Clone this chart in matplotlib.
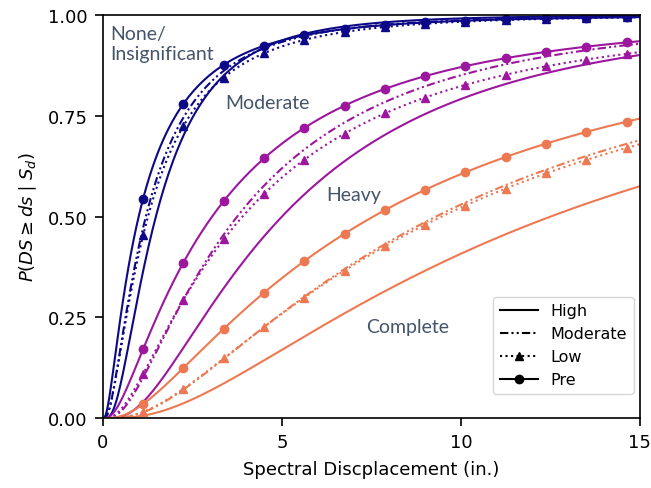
import math
import numpy as np
import matplotlib.pyplot as plt

# damage-state thresholds (fragility curves), one group per colour
STATES = ["Slight", "Moderate", "Extensive"]
CODES = ["High", "Moderate", "Low", "Pre"]

# lognormal median Sd (in.) and dispersion for each state / code level
MEDIAN_HIGH = [1.48, 5.0, 12.5]
MEDIAN_MOD = [1.20, 3.75, 9.30]
MEDIAN_LOW = [1.26, 3.90, 9.46]
MEDIAN_PRE = [1.00, 3.05, 7.55]

BETA_HIGH = [0.795, 0.853, 0.958]
BETA_MOD = [0.95, 0.943, 0.965]
BETA_LOW = [0.97, 1.013, 0.987]
BETA_PRE = [1.05, 1.05, 1.05]

REGION_LABELS = ["None/\nInsignificant", "Moderate", "Heavy", "Complete"]

COLORS = [plt.cm.plasma(0.0), plt.cm.plasma(1 / 3), plt.cm.plasma(2 / 3)]
LABEL_COLOR = "#44546A"
DASHDOTDOT = (0, (4, 1.5, 1, 1.5, 1, 1.5))

STYLES = {
    "High": dict(ls="-", marker=None),
    "Moderate": dict(ls=DASHDOTDOT, marker=None),
    "Low": dict(ls=":", marker="^"),
    "Pre": dict(ls="-", marker="o"),
}

_erf = np.frompyfunc(math.erf, 1, 1)


def lognorm_cdf(x, median, beta):
    xs = np.clip(x, 1e-9, None)
    z = np.log(xs / median) / (beta * math.sqrt(2))
    p = 0.5 * (1 + _erf(z).astype(float))
    return np.where(x > 0, p, 0.0)


sd = np.linspace(0, 15, 401)  # step 0.0375 -> markers every 1.125 in.

fig = plt.figure(figsize=(6.51, 4.89), dpi=100)
ax = fig.add_axes([0.158, 0.143, 0.825, 0.824])

params = {
    "High": (MEDIAN_HIGH, BETA_HIGH),
    "Moderate": (MEDIAN_MOD, BETA_MOD),
    "Low": (MEDIAN_LOW, BETA_LOW),
    "Pre": (MEDIAN_PRE, BETA_PRE),
}

for i, state in enumerate(STATES):
    for code in CODES:
        med, bet = params[code]
        st = STYLES[code]
        ax.plot(sd, lognorm_cdf(sd, med[i], bet[i]), color=COLORS[i],
                linestyle=st["ls"], marker=st["marker"], markersize=6,
                markevery=(30, 30), lw=1.5)

# legend proxies in black
for code in CODES:
    st = STYLES[code]
    ax.plot([], [], color="black", linestyle=st["ls"], marker=st["marker"],
            markersize=6, lw=1.5, label=code)
ax.legend(loc="lower right", fontsize=11.5, bbox_to_anchor=(1.0, 0.045),
          borderaxespad=0.4, handlelength=2.4)

# region labels
lab_kw = dict(color=LABEL_COLOR, fontsize=14, family=["Lato", "DejaVu Sans"],
              ha="left", va="center")
ax.text(0.22, 0.93, REGION_LABELS[0], linespacing=1.2, **lab_kw)
ax.text(3.43, 0.782, REGION_LABELS[1], **lab_kw)
ax.text(6.23, 0.556, REGION_LABELS[2], **lab_kw)
ax.text(7.35, 0.228, REGION_LABELS[3], **lab_kw)

ax.set_xlim(0, 15)
ax.set_ylim(0, 1)
ax.set_xticks([0, 5, 10, 15])
ax.set_yticks([0, 0.25, 0.5, 0.75, 1.0])
ax.set_yticklabels(["0.00", "0.25", "0.50", "0.75", "1.00"])
ax.tick_params(labelsize=13, length=6, width=1.2, pad=5)
for s in ax.spines.values():
    s.set_linewidth(1.2)
ax.set_xlabel("Spectral Discplacement (in.)", fontsize=13, labelpad=6)
ax.set_ylabel(r"$P(DS \geq ds \mid S_d)$", fontsize=13, labelpad=6)

fig.savefig("out.png", dpi=100)
